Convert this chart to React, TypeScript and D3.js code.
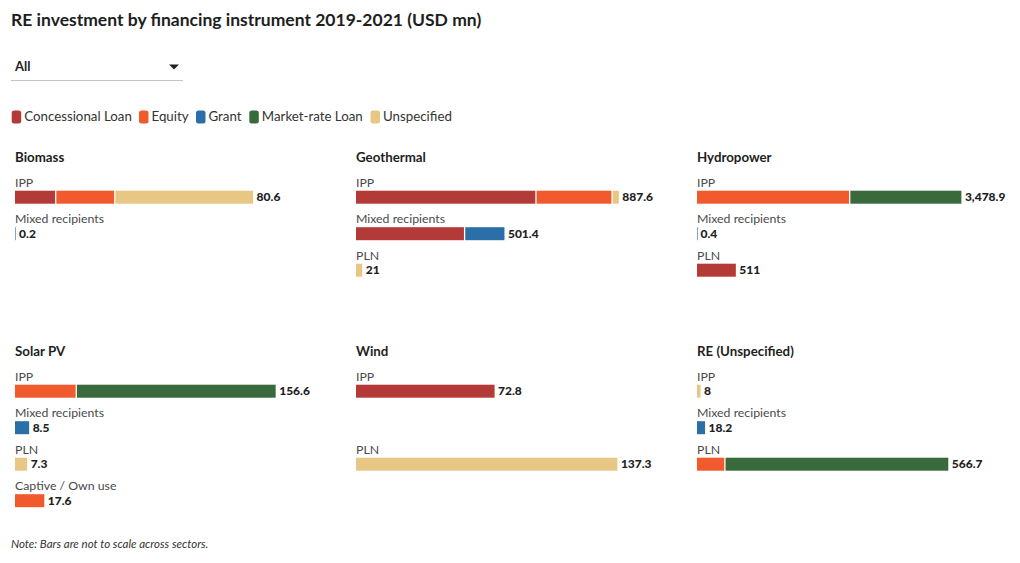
import React from "react";
import * as d3 from "d3";

const categories = ["Concessional Loan", "Equity", "Grant", "Market-rate Loan", "Unspecified"];
const categoryColors = ["#b43a38", "#f05a2d", "#2a6fa8", "#386a3c", "#e8c683"];
const sectors = ["Biomass", "Geothermal", "Hydropower", "Solar PV", "Wind", "RE (Unspecified)"];
const recipients = ["IPP", "Mixed recipients", "PLN", "Captive / Own use"];

// values per category: [Concessional Loan, Equity, Grant, Market-rate Loan, Unspecified]
const biomassIPP = [14, 20, 0, 0, 46.6];
const biomassMixed = [0, 0, 0.2, 0, 0];
const geothermalIPP = [610, 257, 0, 0, 20.6];
const geothermalMixed = [369, 0, 132.4, 0, 0];
const geothermalPLN = [0, 0, 0, 0, 21];
const hydroIPP = [0, 2018, 0, 1460.9, 0];
const hydroMixed = [0, 0, 0.4, 0, 0];
const hydroPLN = [511, 0, 0, 0, 0];
const solarIPP = [0, 37.2, 0, 119.4, 0];
const solarMixed = [0, 0, 8.5, 0, 0];
const solarPLN = [0, 0, 0, 0, 7.3];
const solarCaptive = [0, 17.6, 0, 0, 0];
const windIPP = [72.8, 0, 0, 0, 0];
const windPLN = [0, 0, 0, 0, 137.3];
const reIPP = [0, 0, 0, 0, 8];
const reMixed = [0, 0, 18.2, 0, 0];
const rePLN = [0, 64.4, 0, 502.3, 0];

// sector rows: [recipient, values]
const sectorRows: [string, number[]][][] = [
  [["IPP", biomassIPP], ["Mixed recipients", biomassMixed]],
  [["IPP", geothermalIPP], ["Mixed recipients", geothermalMixed], ["PLN", geothermalPLN]],
  [["IPP", hydroIPP], ["Mixed recipients", hydroMixed], ["PLN", hydroPLN]],
  [["IPP", solarIPP], ["Mixed recipients", solarMixed], ["PLN", solarPLN], ["Captive / Own use", solarCaptive]],
  [["IPP", windIPP], ["PLN", windPLN]],
  [["IPP", reIPP], ["Mixed recipients", reMixed], ["PLN", rePLN]],
];
// scale maxima per sector (bars not to scale across sectors)
const scaleMax = [89.7, 895, 3487, 159.2, 139.2, 597.6];

const FONT = "Lato, 'Open Sans', sans-serif";
const fmt = d3.format(",.1~f");

export default function App() {
  const W = 1020, H = 563;
  const colX = d3.scaleOrdinal<number, number>().domain([0, 1, 2]).range([15, 356, 697]);
  const rowY = d3.scaleOrdinal<number, number>().domain([0, 1]).range([162, 356]);
  const slot = d3.scalePoint<string>().domain(recipients).range([0, 36.5 * 3]);
  const barH = 13;
  const barRange = 265;

  // legend layout
  const legendX = [11.7, 139, 196, 249.3, 370.5];

  return (
    <svg width={W} height={H} style={{ position: "absolute", left: 0, top: 0, background: "#fff" }} fontFamily={FONT}>
      <text x={11} y={26} fontSize={17.5} fontWeight={700} fill="#1e1e1e">
        RE investment by financing instrument 2019-2021 (USD mn)
      </text>
      {/* dropdown */}
      <text x={15} y={71} fontSize={13} fontWeight={700} fill="#222">All</text>
      <path d="M169,64.5 L179,64.5 L174,69.5 Z" fill="#222" />
      <line x1={11} x2={183} y1={80.5} y2={80.5} stroke="#c4c4c4" strokeWidth={1} />
      {/* legend */}
      {categories.map((c, i) => (
        <g key={c} transform={`translate(${legendX[i]},0)`}>
          <rect x={0} y={110.5} width={9.5} height={13} rx={2.5} fill={categoryColors[i]} />
          <text x={12.5} y={121} fontSize={13.3} fill="#333">{c}</text>
        </g>
      ))}
      {sectors.map((s, si) => {
        const x0 = colX(si % 3);
        const ty = rowY(Math.floor(si / 3));
        const xs = d3.scaleLinear().domain([0, scaleMax[si]]).range([0, barRange]);
        return (
          <g key={s}>
            <text x={x0} y={ty} fontSize={13.3} fontWeight={700} fill="#1e1e1e">{s}</text>
            {sectorRows[si].map(([rec, vals]) => {
              const barTop = ty + 28.7 + (slot(rec) ?? 0);
              const total = d3.sum(vals);
              let acc = 0;
              const segs = vals.map((v, ci) => {
                const start = acc;
                acc += v;
                return { ci, start, v };
              }).filter((d) => d.v > 0);
              return (
                <g key={rec}>
                  <text x={x0} y={barTop - 4} fontSize={12.3} fill="#4a4a4a">{rec}</text>
                  {segs.map((d, k) => {
                    const sx = x0 + xs(d.start);
                    let w = xs(d.start + d.v) - xs(d.start);
                    if (k < segs.length - 1) w = Math.max(w - 1.3, 0.5);
                    return (
                      <rect key={d.ci} x={sx} y={barTop} width={Math.max(w, 0.6)} height={barH} fill={categoryColors[d.ci]} />
                    );
                  })}
                  <text x={x0 + xs(total) + 3.5} y={barTop + 10.3} fontSize={12} fontWeight={900} fill="#1e1e1e">
                    {fmt(total)}
                  </text>
                </g>
              );
            })}
          </g>
        );
      })}
      <text x={11} y={548} fontSize={11.5} fontStyle="italic" fill="#333">
        Note: Bars are not to scale across sectors.
      </text>
    </svg>
  );
}
